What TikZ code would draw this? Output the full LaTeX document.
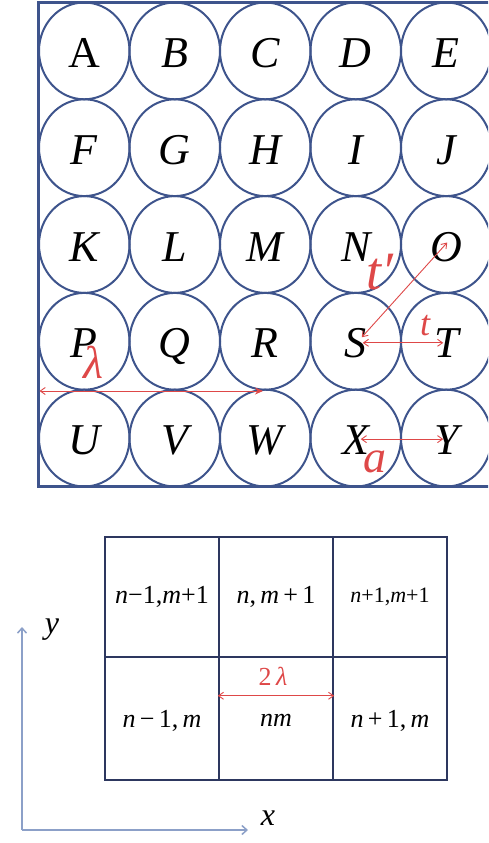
\documentclass[tikz,border=0pt]{standalone}
\usepackage{fontspec}
\setmainfont{Liberation Serif}
\usetikzlibrary{arrows.meta,shapes.geometric,calc}
\definecolor{cblue}{RGB}{62,84,140}
\definecolor{cred}{RGB}{222,72,72}
\definecolor{cnavy}{RGB}{45,55,95}
\definecolor{caxis}{RGB}{140,160,200}
\newcommand\iN{\textit{n}}
\newcommand\iM{\textit{m}}
\begin{document}
\begin{tikzpicture}[x=1pt,y=-1pt,
  bub/.style={ellipse, draw=cblue, line width=2pt, minimum width=90.5pt,
    minimum height=96.8pt, inner sep=0pt,
    font=\fontsize{44}{44}\selectfont\itshape, text height=33pt, text depth=0pt},
  redarr/.style={draw=cred, line width=0.9pt,
    {Straight Barb[length=5pt,width=7pt]}-{Straight Barb[length=5pt,width=7pt]}},
  redlab/.style={text=cred, inner sep=0pt, anchor=center},
  cell/.style={rectangle, draw=cnavy, line width=2.5pt, minimum width=114pt,
    inner sep=0pt},
  celltxt/.style={font=\fontsize{26}{26}\selectfont},
  axisline/.style={draw=caxis, line width=1.5pt,
    -{Straight Barb[length=5pt,width=9pt]}},
  axlab/.style={font=\fontsize{32}{32}\selectfont\itshape, inner sep=0pt}]
\useasboundingbox (0,0) rectangle (488,843);
\begin{scope}
\clip (0,0) rectangle (488,843);
% frame
\draw[cblue, line width=3pt] (520,2.5) -- (38.5,2.5) -- (38.5,486.5) -- (520,486.5);
% circles
\node[bub, font=\fontsize{44}{44}\selectfont\upshape] (A) at (84.25,50.9) {A};
\foreach \L [count=\i from 1] in {B,C,D,E,F,G,H,I,J,K,L,M,N,O,P,Q,R,S,T,U,V,W,X,Y}{
  \pgfmathtruncatemacro{\cc}{mod(\i,5)}
  \pgfmathtruncatemacro{\rr}{int(\i/5)}
  \node[bub] (\L) at ({84.25+90.5*\cc},{50.9+96.8*\rr}) {\L};
}
\end{scope}
% red arrows in top figure
\coordinate (lamL) at (39.5,391);
\coordinate (lamR) at (263,391);
\draw[draw=cred, line width=0.9pt, {Straight Barb[length=5pt,width=7pt]}-{Stealth[length=8pt,width=7pt]}] (lamL) -- (lamR);
\node[redlab, font=\fontsize{46}{46}\selectfont\itshape] (lam) at (93,362) {λ};
\draw[redarr] ($(O.center)+(1,-2)$) -- ($(S.center)+(6,-4)$);
\node[redlab, font=\fontsize{54}{54}\selectfont\itshape] (tp) at (380,272) {t′};
\draw[redarr] ($(S.center)+(7,1.5)$) -- ($(T.center)+(-3,1.5)$);
\node[redlab, font=\fontsize{36}{36}\selectfont\itshape] (tl) at (425,326) {t};
\draw[redarr] ($(X.center)+(5,1)$) -- ($(Y.center)+(-3,1)$);
\node[redlab, font=\fontsize{46}{46}\selectfont\itshape] (al) at (375,462) {a};
% bottom grid
\node[cell, minimum height=120pt] (c11) at (162,597) {};
\node[cell, minimum height=120pt] (c12) at (276,597) {};
\node[cell, minimum height=120pt] (c13) at (390,597) {};
\node[cell, minimum height=123pt] (c21) at (162,718.5) {};
\node[cell, minimum height=123pt] (c22) at (276,718.5) {};
\node[cell, minimum height=123pt] (c23) at (390,718.5) {};
\node[celltxt] at (c11) {\iN−1,\iM+1};
\node[celltxt] at (c12) {\iN,\,\iM\,+\,1};
\node[celltxt, font=\fontsize{22}{22}\selectfont] at (c13) {\iN+1,\iM+1};
\node[celltxt] at ($(c21)+(0,2)$) {\iN\,−\,1,\,\iM};
\node[celltxt] at ($(c22)+(0,2)$) {\iN\iM};
\node[celltxt] at ($(c23)+(0,2)$) {\iN\,+\,1,\,\iM};
\draw[redarr] ($(c22.north west)+(0,40)$) -- ($(c22.north east)+(0,40)$);
\node[redlab, font=\fontsize{26}{26}\selectfont] (twolam) at (273,676) {2\,\textit{λ}};
% axes
\coordinate (org) at (22,830);
\coordinate (ytip) at (22,627);
\coordinate (xtip) at (248,830);
\draw[axisline] (org) -- (ytip);
\draw[axisline] (org) -- (xtip);
\node[axlab] (ylab) at (52,630) {y};
\node[axlab] (xlab) at (268,818) {x};
\end{tikzpicture}
\end{document}
